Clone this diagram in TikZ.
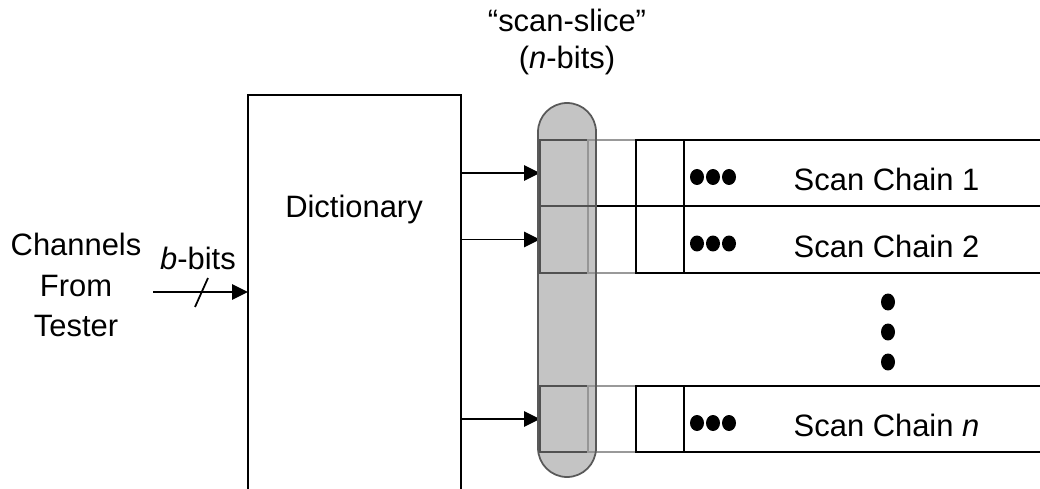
\documentclass[tikz,border=0pt]{standalone}
\usepackage{fontspec}
\setmainfont{Liberation Sans}
\usetikzlibrary{arrows.meta}
\tikzset{block/.style={draw, line width=1pt, inner sep=0pt, outer sep=0pt, minimum width=4.26cm, minimum height=9cm}}
\tikzset{cell/.style={draw, line width=1pt, inner sep=0pt, outer sep=0pt, minimum width=0.96cm, minimum height=1.33cm}}
\tikzset{chain/.style={cell, minimum width=8cm}}
\tikzset{feed/.style={line width=1pt, -{Triangle[length=0.32cm,width=0.31cm]}}}
\tikzset{slice/.style={draw=black!65, line width=1pt, fill=black!42, fill opacity=0.55, rounded corners=0.58cm}}

\begin{document}
\begin{tikzpicture}[x=0.02cm, y=-0.02cm, line width=1pt, font=\fontsize{17.6}{20.5}\selectfont]
    		\clip (0,0) rectangle (1040,489);
    		% dictionary block, runs off the bottom edge
    		\node[block, anchor=north west] (dict) at (248,95) {};
    		\node[anchor=base] (dictlbl) at (354,218) {Dictionary};
    		% tester input
    		\node[align=center, font=\fontsize{17.6}{23.2}\selectfont] (tester) at (76,285) {Channels\\From\\Tester};
    		\node[anchor=base] (bwidth) at (198,270) {\textit{b}-bits};
    		\coordinate (src) at (153,292);
    		\draw[feed] (src) -- (src -| dict.west);
    		\draw (195,307) -- (208,278);
    		% scan chains
    		\foreach \r/\y/\txt in {1/173/1, 2/239.5/2, n/419/\textit{n}}
        	{
        		\node[cell] (slice\r) at (564,\y) {};
        		\node[cell, draw=black!40, anchor=west] (reg\r) at (slice\r.east) {};
        		\node[cell, anchor=west] (stage\r) at (reg\r.east) {};
        		\node[chain, anchor=west] (chain\r) at (stage\r.east) {};
        		\node[anchor=base west] (name\r) at (787,\y+17.5) {Scan Chain \txt};
        		\draw[feed] (dict.east |- slice\r.west) -- (slice\r.west);
        		\foreach \dx in {697,713,729}
        			\fill (\dx,\y+4) ellipse (0.14cm and 0.16cm);
        	}
    		\draw (slice1.south west) -- (chain1.south east);
    		\foreach \dy in {302,332,362}
    			\fill (888,\dy) ellipse (0.14cm and 0.17cm);
    		% the scan slice across all chains
    		\draw[slice] (538,103) rectangle (596,477);
    		\node[align=center] (slicelbl) at (567,42) {“scan-slice”\\(\textit{n}-bits)};
		\end{tikzpicture}
\end{document}
